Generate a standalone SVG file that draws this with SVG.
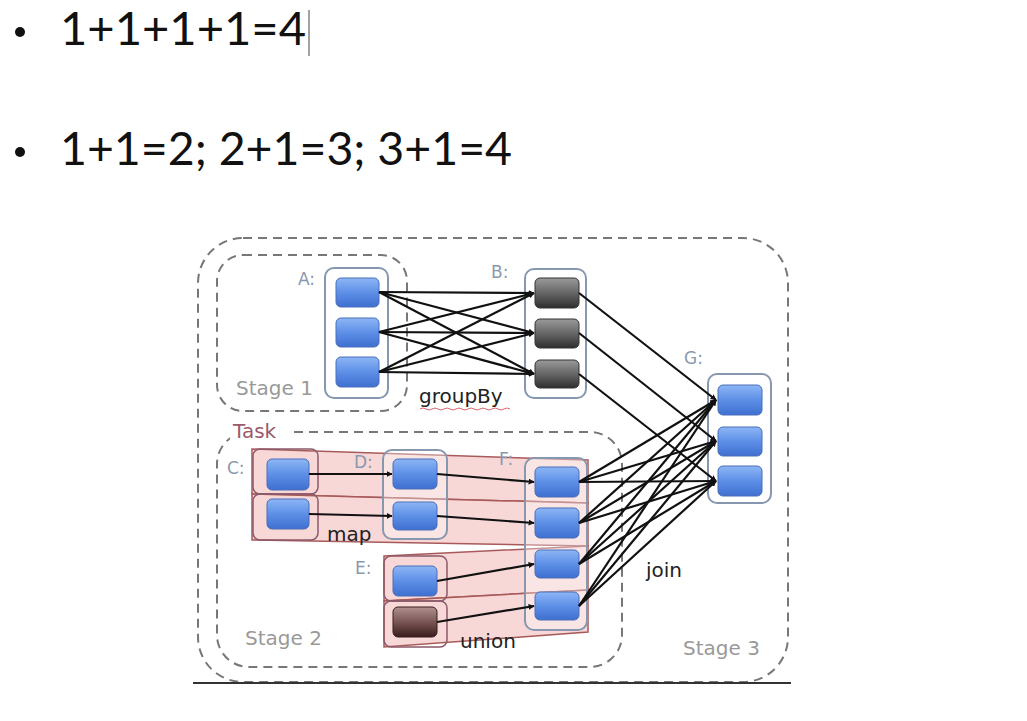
<svg xmlns="http://www.w3.org/2000/svg" width="1027" height="721" viewBox="0 0 1027 721">
<defs>
<linearGradient id="gBlue" x1="0" y1="0" x2="0" y2="1">
<stop offset="0" stop-color="#8db6f5"/><stop offset="0.5" stop-color="#5d8fe6"/><stop offset="1" stop-color="#3f6fd0"/>
</linearGradient>
<linearGradient id="gDark" x1="0" y1="0" x2="0" y2="1">
<stop offset="0" stop-color="#9a9a9a"/><stop offset="0.5" stop-color="#666"/><stop offset="1" stop-color="#2e2e2e"/>
</linearGradient>
<linearGradient id="gBrown" x1="0" y1="0" x2="0" y2="1">
<stop offset="0" stop-color="#b09090"/><stop offset="0.5" stop-color="#7a5555"/><stop offset="1" stop-color="#3a1c1c"/>
</linearGradient>
<marker id="arr" viewBox="0 0 10 10" refX="9" refY="5" markerWidth="6" markerHeight="6" orient="auto" markerUnits="userSpaceOnUse">
<path d="M0,0 L10,5 L0,10 z" fill="#111"/>
</marker>
<style>
.main{font-family:Lato,"Liberation Sans",Arial,sans-serif;font-size:46px;fill:#111}
.stage{fill:none;stroke:#777;stroke-width:2;stroke-dasharray:9,6}
.cont{fill:#fff;fill-opacity:0.35;stroke:#8797b0;stroke-width:2}
.band{fill:#f5caca;fill-opacity:0.75;stroke:#a85a5a;stroke-width:1.5}
.part{fill:none;stroke:#8a5a6a;stroke-width:1.5}
.blue{fill:url(#gBlue);stroke:#4a6fb8;stroke-width:1}
.dark{fill:url(#gDark);stroke:#333;stroke-width:1}
.brown{fill:url(#gBrown);stroke:#3a1c1c;stroke-width:1}
.lbl{font-family:"DejaVu Sans",sans-serif;font-size:17px;fill:#8a98ae}
.stg{font-family:"DejaVu Sans",sans-serif;font-size:20px;fill:#999}
.op{font-family:"DejaVu Sans",sans-serif;font-size:20px;fill:#222}
.conn line{stroke:#111;stroke-width:2.2;marker-end:url(#arr)}
</style>
</defs>
<rect width="1027" height="721" fill="#fff"/>

<g id="bullets">
<circle cx="20" cy="32" r="5" fill="#111"/>
<text class="main" x="60" y="45" textLength="246" lengthAdjust="spacingAndGlyphs">1+1+1+1=4</text>
<line x1="309" y1="10" x2="309" y2="56" stroke="#444" stroke-width="1"/>
<circle cx="20" cy="152" r="5" fill="#111"/>
<text class="main" x="60" y="165" textLength="452" lengthAdjust="spacingAndGlyphs">1+1=2; 2+1=3; 3+1=4</text>
</g>

<g id="stages">
<rect class="stage" x="198" y="238" width="590" height="444" rx="45"/>
<rect class="stage" x="217" y="255" width="190" height="156" rx="26"/>
<rect class="stage" x="217" y="432" width="405" height="235" rx="32"/>
<line x1="193" y1="683" x2="791" y2="683" stroke="#333" stroke-width="2"/>
</g>

<g id="tasks">
<polygon class="band" points="252,449 588,460 588,503 252,494"/>
<polygon class="band" points="252,494 588,503 588,546 252,540"/>
<polygon class="band" points="384,556 588,546 588,590 384,601"/>
<polygon class="band" points="384,601 588,590 588,632 384,647"/>
</g>

<g id="node-A">
<rect class="cont" x="325" y="268" width="63" height="130" rx="9"/>
<rect class="blue" x="336" y="278" width="43" height="29" rx="5"/>
<rect class="blue" x="336" y="318" width="43" height="29" rx="5"/>
<rect class="blue" x="336" y="357" width="43" height="30" rx="5"/>
<text class="lbl" x="298" y="285">A:</text>
</g>
<g id="node-B">
<rect class="cont" x="525" y="269" width="61" height="129" rx="9"/>
<rect class="dark" x="535" y="278" width="44" height="30" rx="5"/>
<rect class="dark" x="535" y="319" width="44" height="29" rx="5"/>
<rect class="dark" x="535" y="360" width="44" height="28" rx="5"/>
<text class="lbl" x="491" y="278">B:</text>
</g>
<g id="node-G">
<rect class="cont" x="708" y="374" width="63" height="129" rx="9"/>
<rect class="blue" x="718" y="385" width="44" height="30" rx="5"/>
<rect class="blue" x="718" y="427" width="44" height="29" rx="5"/>
<rect class="blue" x="718" y="466" width="44" height="30" rx="5"/>
<text class="lbl" x="684" y="364">G:</text>
</g>
<g id="node-C">
<rect class="part" x="253" y="449" width="65" height="45" rx="7"/>
<rect class="part" x="253" y="494" width="65" height="46" rx="7"/>
<rect class="blue" x="267" y="459" width="42" height="31" rx="5"/>
<rect class="blue" x="267" y="499" width="42" height="30" rx="5"/>
<text class="lbl" x="227" y="474">C:</text>
</g>
<g id="node-D">
<rect class="cont" x="383" y="450" width="64" height="89" rx="9"/>
<rect class="blue" x="393" y="459" width="44" height="30" rx="5"/>
<rect class="blue" x="393" y="502" width="44" height="28" rx="5"/>
<text class="lbl" x="354" y="468">D:</text>
</g>
<g id="node-E">
<rect class="part" x="384" y="556" width="63" height="45" rx="7"/>
<rect class="part" x="384" y="601" width="63" height="46" rx="7"/>
<rect class="blue" x="393" y="566" width="44" height="30" rx="5"/>
<rect class="brown" x="393" y="607" width="44" height="30" rx="5"/>
<text class="lbl" x="355" y="574">E:</text>
</g>
<g id="node-F">
<rect class="cont" x="525" y="458" width="62" height="172" rx="9"/>
<rect class="blue" x="535" y="467" width="44" height="30" rx="5"/>
<rect class="blue" x="535" y="508" width="44" height="30" rx="5"/>
<rect class="blue" x="535" y="550" width="44" height="28" rx="5"/>
<rect class="blue" x="535" y="592" width="44" height="28" rx="5"/>
<text class="lbl" x="499" y="465">F:</text>
</g>

<g class="conn" id="connectors">
<line x1="379" y1="292" x2="534" y2="293"/>
<line x1="379" y1="292" x2="534" y2="333"/>
<line x1="379" y1="292" x2="534" y2="374"/>
<line x1="379" y1="332" x2="534" y2="293"/>
<line x1="379" y1="332" x2="534" y2="333"/>
<line x1="379" y1="332" x2="534" y2="374"/>
<line x1="379" y1="372" x2="534" y2="293"/>
<line x1="379" y1="372" x2="534" y2="333"/>
<line x1="379" y1="372" x2="534" y2="374"/>
<line x1="579" y1="293" x2="716" y2="400"/>
<line x1="579" y1="333" x2="716" y2="441"/>
<line x1="579" y1="374" x2="716" y2="481"/>
<line x1="579" y1="482" x2="716" y2="400"/>
<line x1="579" y1="482" x2="716" y2="441"/>
<line x1="579" y1="482" x2="716" y2="481"/>
<line x1="579" y1="523" x2="716" y2="400"/>
<line x1="579" y1="523" x2="716" y2="441"/>
<line x1="579" y1="523" x2="716" y2="481"/>
<line x1="579" y1="564" x2="716" y2="400"/>
<line x1="579" y1="564" x2="716" y2="441"/>
<line x1="579" y1="564" x2="716" y2="481"/>
<line x1="579" y1="606" x2="716" y2="400"/>
<line x1="579" y1="606" x2="716" y2="441"/>
<line x1="579" y1="606" x2="716" y2="481"/>
<line x1="309" y1="474" x2="392" y2="474"/>
<line x1="309" y1="514" x2="392" y2="516"/>
<line x1="437" y1="474" x2="534" y2="482"/>
<line x1="437" y1="516" x2="534" y2="523"/>
<line x1="437" y1="581" x2="534" y2="564"/>
<line x1="437" y1="622" x2="534" y2="606"/>
</g>

<g id="labels">
<text class="stg" x="236" y="395">Stage 1</text>
<text class="stg" x="245" y="645">Stage 2</text>
<text class="stg" x="683" y="655">Stage 3</text>
<rect x="230" y="418" width="58" height="24" fill="#fff"/>
<text x="233" y="438" font-family="DejaVu Sans, sans-serif" font-size="20" fill="#9a5a6a">Task</text>
<text class="op" x="419" y="403">groupBy</text>
<path d="M420,409 q3,-2 6,0 t6,0 t6,0 t6,0 t6,0 t6,0 t6,0 t6,0 t6,0 t6,0 t6,0 t6,0 t6,0 t6,0 t6,0" fill="none" stroke="#d04050" stroke-width="0.8"/>
<text class="op" x="327" y="541">map</text>
<text class="op" x="460" y="648">union</text>
<text class="op" x="646" y="577">join</text>
</g>
</svg>
